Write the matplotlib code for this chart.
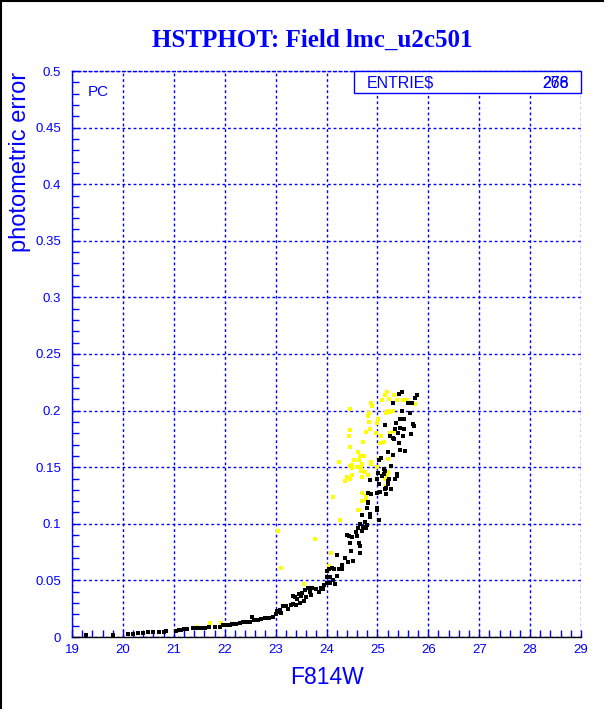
import matplotlib
matplotlib.use("Agg")
import matplotlib.pyplot as plt
from matplotlib.lines import Line2D
from matplotlib.patches import Rectangle
from matplotlib.ticker import MultipleLocator

title = "HSTPHOT: Field lmc_u2c501"
xlabel = "F814W"
ylabel = "photometric error"
x_ticks = [19, 20, 21, 22, 23, 24, 25, 26, 27, 28, 29]
y_ticks = [0, 0.05, 0.1, 0.15, 0.2, 0.25, 0.3, 0.35, 0.4, 0.45, 0.5]
y_ticklabels = ["0", "0.05", "0.1", "0.15", "0.2", "0.25", "0.3", "0.35", "0.4", "0.45", "0.5"]
entries_a = "278"
entries_b = "266"

black_mag = [19.27, 19.81, 20.1, 20.2, 20.3, 20.4, 20.5, 20.6, 20.7, 20.8, 20.85,
             21.05, 21.1, 21.15, 21.2, 21.25, 21.38, 21.45, 21.5, 21.55, 21.62, 21.7, 21.8, 21.9,
             21.97, 22.05, 22.1, 22.15, 22.22, 22.3, 22.35, 22.42, 22.5, 22.53, 22.58, 22.65,
             22.72, 22.8, 22.88, 22.95, 23.0, 23.02, 23.05, 23.08, 23.1, 23.14, 23.2, 23.25,
             23.3, 23.35, 23.4, 23.34, 23.38, 23.42, 23.45, 23.5, 23.55, 23.52, 23.58, 23.63,
             23.68, 23.7, 23.72, 23.8, 23.85, 23.9, 23.93, 23.95, 24.0, 24.0, 24.01, 24.05,
             24.07, 24.07, 24.1, 24.12, 24.15, 24.17, 24.2, 24.2, 24.25, 24.3, 24.3, 24.36,
             24.4, 24.43, 24.44, 24.46, 24.49, 24.5, 24.53, 24.58, 24.6, 24.62, 24.64, 24.65,
             24.66, 24.66, 24.7, 24.7, 24.72, 24.76, 24.77, 24.8, 24.8, 24.82, 24.82, 24.82,
             24.85, 24.86, 24.86, 24.88, 24.99, 25.0, 25.0, 25.0, 25.02, 25.03, 25.04, 25.04,
             25.06, 25.07, 25.1, 25.13, 25.13, 25.14, 25.15, 25.15, 25.17, 25.17, 25.2, 25.2,
             25.21, 25.22, 25.25, 25.26, 25.26, 25.27, 25.3, 25.31, 25.31, 25.32, 25.34, 25.35,
             25.36, 25.38, 25.39, 25.4, 25.42, 25.43, 25.45, 25.45, 25.45, 25.48, 25.48, 25.5,
             25.53, 25.53, 25.54, 25.6, 25.64, 25.66, 25.67, 25.7, 25.72, 25.74, 25.77,
             23.6, 23.48]
black_err = [0.002, 0.002, 0.003, 0.003, 0.0035, 0.0035, 0.004, 0.0045, 0.0045, 0.0045, 0.0056,
             0.0056, 0.006, 0.0058, 0.0075, 0.007, 0.008, 0.0078, 0.008, 0.0082, 0.008, 0.009, 0.0088, 0.0092,
             0.0103, 0.0105, 0.0108, 0.0117, 0.0117, 0.012, 0.0133, 0.013, 0.0136, 0.018, 0.015, 0.0152,
             0.0158, 0.017, 0.0172, 0.018, 0.02, 0.023, 0.022, 0.024, 0.021, 0.027, 0.027, 0.025,
             0.028, 0.029, 0.028, 0.036, 0.035, 0.034, 0.038, 0.036, 0.032, 0.039, 0.0415, 0.043,
             0.04, 0.037, 0.043, 0.042, 0.04, 0.043, 0.042, 0.046, 0.048, 0.053, 0.058, 0.06,
             0.048, 0.053, 0.061, 0.05, 0.06, 0.047, 0.072, 0.054, 0.06, 0.064, 0.06, 0.07,
             0.09, 0.066, 0.089, 0.083, 0.076, 0.088, 0.067, 0.093, 0.089, 0.096, 0.083, 0.074,
             0.1, 0.08, 0.094, 0.108, 0.097, 0.102, 0.096, 0.099, 0.114, 0.119, 0.127, 0.118,
             0.139, 0.109, 0.106, 0.126, 0.112, 0.114, 0.127, 0.14, 0.145, 0.135, 0.103, 0.156,
             0.128, 0.158, 0.142, 0.144, 0.148, 0.131, 0.147, 0.187, 0.132, 0.126, 0.138, 0.163,
             0.135, 0.14, 0.178, 0.151, 0.131, 0.151, 0.176, 0.161, 0.207, 0.175, 0.184, 0.14,
             0.189, 0.144, 0.142, 0.18, 0.171, 0.215, 0.165, 0.185, 0.193, 0.216, 0.2, 0.178,
             0.193, 0.184, 0.164, 0.207, 0.198, 0.179, 0.207, 0.188, 0.186, 0.211, 0.214,
             0.035, 0.03]

yellow_mag = [21.45, 21.71, 21.93, 23.05, 23.1, 23.56, 23.77, 24.02, 24.04, 24.08, 24.12,
              24.25, 24.26, 24.36, 24.4, 24.45, 24.46, 24.46, 24.46, 24.47, 24.47, 24.5, 24.5,
              24.5, 24.54, 24.6, 24.62, 24.62, 24.63, 24.64, 24.65, 24.67, 24.68, 24.69, 24.69,
              24.7, 24.7, 24.72, 24.73, 24.75, 24.77, 24.77, 24.78, 24.82, 24.82, 24.84, 24.84,
              24.85, 24.87, 24.87, 24.87, 24.89, 24.97, 25.0, 25.0, 25.02, 25.03, 25.05, 25.08,
              25.1, 25.12, 25.15, 25.15, 25.17, 25.17, 25.18, 25.18, 25.2, 25.2, 25.21, 25.22,
              25.24, 25.25, 25.3, 25.33, 25.33, 25.39, 25.5, 25.58, 25.67, 25.74]
yellow_err = [0.009, 0.012, 0.0126, 0.094, 0.061, 0.047, 0.087, 0.058, 0.063, 0.074, 0.124,
              0.155, 0.103, 0.138, 0.141, 0.178, 0.168, 0.151, 0.14, 0.183, 0.201, 0.149, 0.143,
              0.152, 0.156, 0.15, 0.163, 0.112, 0.156, 0.112, 0.16, 0.147, 0.15, 0.12, 0.141,
              0.127, 0.153, 0.172, 0.16, 0.146, 0.181, 0.125, 0.121, 0.195, 0.143, 0.198, 0.19,
              0.184, 0.207, 0.155, 0.153, 0.204, 0.18, 0.189, 0.15, 0.193, 0.157, 0.171, 0.178,
              0.209, 0.172, 0.214, 0.14, 0.198, 0.133, 0.216, 0.143, 0.146, 0.2, 0.157, 0.21,
              0.199, 0.18, 0.2, 0.214, 0.182, 0.209, 0.209, 0.209, 0.207, 0.206]

BLUE = "#0000ff"
plt.rcParams["font.family"] = ["Liberation Sans", "DejaVu Sans"]

fig = plt.figure(figsize=(6.12, 7.09), dpi=100)
fig.patch.set_facecolor("white")
ax = fig.add_axes([72 / 612, 1 - 637 / 709, (581 - 72) / 612, (637 - 71) / 709])

ax.scatter(yellow_mag, yellow_err, s=6, marker="s", color="#ffff00", linewidths=0, zorder=3)
ax.scatter(black_mag, black_err, s=6, marker="s", color="black", linewidths=0, zorder=4)

ax.set_xlim(19, 29)
ax.set_ylim(0, 0.5)
ax.set_xticks(x_ticks)
ax.set_xticklabels([str(t) for t in x_ticks])
ax.set_yticks(y_ticks)
ax.set_yticklabels(y_ticklabels)
ax.xaxis.set_minor_locator(MultipleLocator(0.2))
ax.yaxis.set_minor_locator(MultipleLocator(0.01))
ax.tick_params(axis="both", which="both", direction="in", length=5, width=1,
               color=BLUE, labelcolor=BLUE, labelsize=9.5, top=False, right=False)
ax.tick_params(axis="x", pad=5)
ax.tick_params(axis="y", pad=8)
ax.grid(True, which="major", color=BLUE, linestyle=(0, (2, 2)), linewidth=1)
ax.set_axisbelow(True)

ax.spines["left"].set_color(BLUE)
ax.spines["bottom"].set_color("black")
ax.spines["top"].set_color(BLUE)
ax.spines["top"].set_linestyle((0, (2, 2)))
ax.spines["right"].set_visible(False)
for sp in ax.spines.values():
    sp.set_linewidth(1)

ax.set_xlabel(xlabel, color=BLUE, fontsize=16.5, labelpad=7)
fig.text(20 / 612, 1 - 72 / 709, ylabel, rotation=90, color=BLUE, fontsize=17,
         ha="center", va="top")
fig.text(312 / 612, 1 - 40 / 709, title, color=BLUE, fontsize=18, fontweight="bold",
         family="Liberation Serif", ha="center", va="center")

ax.text(0.03, 0.975, "PC", transform=ax.transAxes, color=BLUE, fontsize=11,
        ha="left", va="top")

box = Rectangle((354 / 612, 1 - 93 / 709), (581 - 354) / 612, (93 - 71) / 709,
                transform=fig.transFigure, fill=True, facecolor="white",
                edgecolor=BLUE, linewidth=1, zorder=5)
fig.add_artist(box)
fig.text(367 / 612, 1 - 83 / 709, "ENTRIE$", color=BLUE, fontsize=11.5,
         ha="left", va="center", zorder=6)
fig.text(569 / 612, 1 - 83 / 709, entries_a, color=BLUE, fontsize=11.5,
         ha="right", va="center", zorder=6)
fig.text(569 / 612, 1 - 83 / 709, entries_b, color=BLUE, fontsize=11.5,
         ha="right", va="center", zorder=6)

fig.add_artist(Line2D([0.5 / 612, 0.5 / 612], [0, 1], transform=fig.transFigure,
                      color="black", linewidth=1.5))
fig.add_artist(Line2D([0, 603 / 612], [1 - 0.5 / 709, 1 - 0.5 / 709], transform=fig.transFigure,
                      color="black", linewidth=1.5))

fig.savefig("out.png", dpi=100)
